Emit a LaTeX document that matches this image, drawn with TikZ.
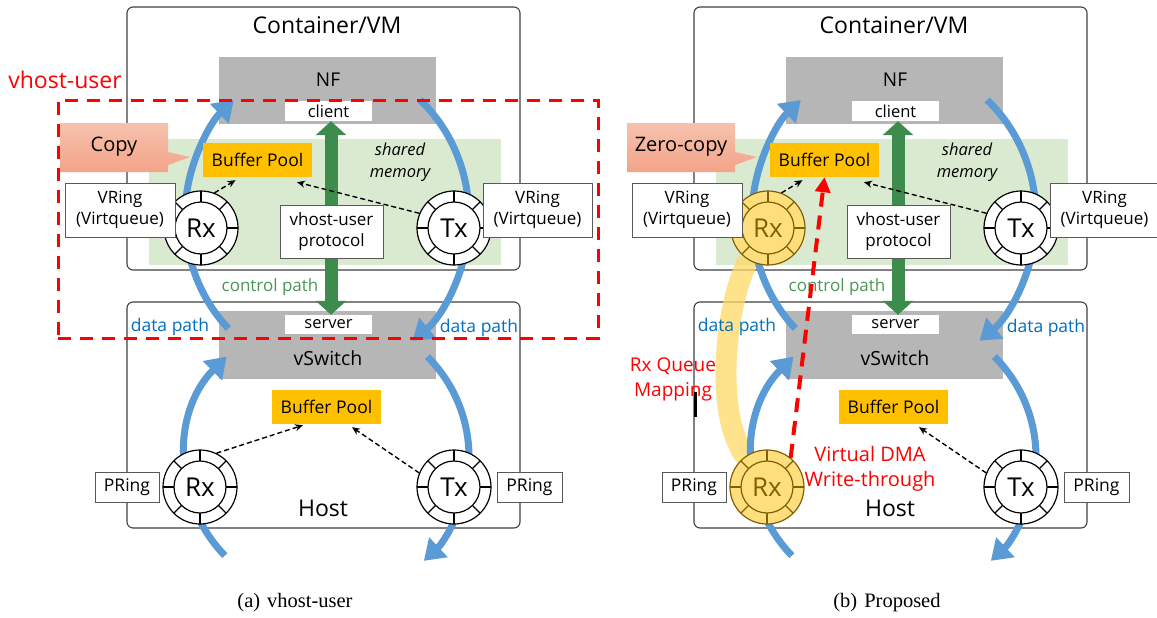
\documentclass[tikz,border=0pt]{standalone}
\usepackage{fontspec}
\setmainfont{Open Sans}
\newfontfamily\capfont{Liberation Serif}
\usetikzlibrary{arrows.meta,calc}

\definecolor{boxgray}{RGB}{182,182,182}
\definecolor{shmem}{RGB}{217,234,208}
\definecolor{pool}{RGB}{255,192,0}
\definecolor{flow}{RGB}{91,155,213}
\definecolor{flowtext}{RGB}{0,112,192}
\definecolor{ctrl}{RGB}{61,139,77}
\definecolor{ctrltext}{RGB}{76,150,86}
\definecolor{calltop}{RGB}{246,194,174}
\definecolor{callbot}{RGB}{243,163,136}
\definecolor{goldfill}{RGB}{255,222,125}
\definecolor{golddark}{RGB}{128,96,0}
\definecolor{mapband}{RGB}{255,217,102}

\newcommand\fsz[2]{\fontsize{#1}{#2}\selectfont}

\tikzset{
  frame/.style={draw=black!75, line width=1.1pt, rounded corners=6pt, inner sep=0},
  shmarea/.style={fill=shmem, inner sep=0},
  graybox/.style={fill=boxgray, inner sep=0},
  tag/.style={draw=black!65, fill=white, line width=0.9pt, inner sep=0, align=center, font=\fsz{17}{21}},
  whitetag/.style={fill=white, inner sep=0, font=\fsz{16.5}{18}},
  poolbox/.style={fill=pool, inner sep=0, minimum width=109pt, minimum height=34pt, font=\fsz{17.5}{20}},
  ring/.style={circle, draw=black, line width=1.2pt, fill=white, minimum size=74pt, inner sep=0, font=\fsz{26}{28}},
  goldring/.style={ring, draw=golddark, fill=goldfill, text=golddark},
  flowarrow/.style={draw=flow, line width=7pt, -{Triangle[length=20pt,width=26pt]}},
  ctrlarrow/.style={draw=ctrl, line width=13pt, {Triangle[length=14pt,width=30pt]}-{Triangle[length=14pt,width=30pt]}},
  ptrarrow/.style={draw=black, line width=1.4pt, dash pattern=on 5pt off 3pt, -{Stealth[length=8pt,width=7pt]}},
  dmaarrow/.style={draw=red, line width=4pt, dash pattern=on 14pt off 9pt, -{Triangle[length=15pt,width=15pt]}},
  mapping/.style={draw=mapband, line width=21pt, draw opacity=0.75},
  txt/.style={inner sep=0, align=center},
}

% inner circle and slot dividers of a descriptor ring
\newcommand\ringdeco[2]{%
  \draw[#2, line width=1.2pt] (#1.center) circle[radius=26pt];
  \foreach \a in {0,45,...,315}
    \draw[#2, line width=1.1pt] ($(#1.center)+(\a:26pt)$) -- ($(#1.center)+(\a:37pt)$);
}

% one panel: #1 prefix, #2 shift, #3 style of the Rx rings, #4 callout text,
% #5 drawn under the data paths, #6 drawn on top
\newcommand\drawpanel[6]{%
\begin{scope}[xshift=#2pt]
  \node[frame, minimum width=393pt, minimum height=263pt] (#1vm) at (323.5,138.5) {};
  \node[frame, minimum width=393pt, minimum height=226pt] (#1host) at (323.5,415) {};
  \node[shmarea, minimum width=352pt, minimum height=126pt] (#1shm) at (325,202) {};
  \node[graybox, minimum width=217pt, minimum height=67pt] (#1nf) at (327.5,90.5) {};
  \node[graybox, minimum width=217pt, minimum height=68pt] (#1vsw) at (327.5,345) {};
  \node[whitetag, minimum width=87pt, minimum height=20pt] (#1client) at (328.5,111) {client};
  \node[whitetag, minimum width=87pt, minimum height=19pt] (#1server) at (328.5,324.5) {server};
  #5
  % data paths
  \coordinate (#1up) at (327,217);
  \coordinate (#1lo) at (327,457);
  \draw[flowarrow] ($(#1up)+(134:142 and 155)$) arc[start angle=134, end angle=229, x radius=142, y radius=155];
  \draw[flowarrow] ($(#1up)+(-49:142 and 155)$) arc[start angle=-49, end angle=53, x radius=142, y radius=155];
  \draw[flowarrow] ($(#1lo)+(136:142 and 142)$) arc[start angle=136, end angle=225, x radius=142, y radius=142];
  \draw[flowarrow] ($(#1lo)+(-45:142 and 142)$) arc[start angle=-45, end angle=47, x radius=142, y radius=142];
  % control path
  \draw[ctrlarrow] ([xshift=2.5pt]#1client.south) -- ([xshift=2.5pt]#1server.north);
  \node[tag, minimum width=103pt, minimum height=53pt] (#1proto) at (331.5,231.5) {vhost-user\\protocol};
  \node[poolbox] (#1pool1) at (257.5,160) {Buffer Pool};
  \node[poolbox] (#1pool2) at (326.5,407) {Buffer Pool};
  % rings
  \node[#3] (#1vrx) at (201,228) {Rx};
  \node[ring] (#1vtx) at (454,228) {Tx};
  \node[#3] (#1hrx) at (200,487) {Rx};
  \node[ring] (#1htx) at (454,487) {Tx};
  \ringdeco{#1vrx}{draw=#1rc}
  \ringdeco{#1vtx}{draw=black}
  \ringdeco{#1hrx}{draw=#1rc}
  \ringdeco{#1htx}{draw=black}
  \draw[ptrarrow] (#1vrx.69) -- ($(#1pool1.south)+(-22,3)$);
  \draw[ptrarrow] (#1vtx.157) -- ($(#1pool1.south)+(39.5,5)$);
  \draw[ptrarrow] (#1htx.158) -- ($(#1pool2.south)+(25.5,3)$);
  \node[tag, minimum width=110pt, minimum height=54pt] (#1vringl) at (120,210) {VRing\\(Virtqueue)};
  \node[tag, minimum width=109pt, minimum height=54pt] (#1vringr) at (537.5,210) {VRing\\(Virtqueue)};
  \node[tag, minimum width=64pt, minimum height=30pt, font=\fsz{17.5}{20}] (#1pringl) at (127,487) {PRing};
  \node[tag, minimum width=65pt, minimum height=30pt, font=\fsz{17.5}{20}] (#1pringr) at (529.5,487) {PRing};
  % callout
  \shade[top color=calltop, bottom color=callbot]
    (60,123) -- (168,123) -- (168,152) -- (190,157) -- (168,165) -- (168,172) -- (60,172) -- cycle;
  \node[txt, font=\fsz{20}{22}] (#1calltext) at (114,147) {#4};
  % labels
  \node[txt, font=\fsz{23}{26}] (#1title) at (327,25) {Container/VM};
  \node[txt, font=\fsz{19}{22}] (#1nftext) at (328,80) {NF};
  \node[txt, font=\fsz{19.5}{22}] (#1vswtext) at (328,358) {vSwitch};
  \node[txt, font=\fsz{23}{26}] (#1hosttext) at (323,508) {Host};
  \node[txt, font=\itshape\fsz{16.5}{22}] (#1shmtext) at (400,162) {shared\\memory};
  \node[txt, text=ctrltext, font=\fsz{17}{20}] (#1ctrltext) at (270,287) {control path};
  \node[txt, text=flowtext, font=\fsz{17.5}{20}] (#1dpl) at (170,327) {data path};
  \node[txt, text=flowtext, font=\fsz{17.5}{20}] (#1dpr) at (479,328) {data path};
  #6
\end{scope}}

\colorlet{a-rc}{black}
\colorlet{b-rc}{golddark}

\begin{document}
\begin{tikzpicture}[x=1pt,y=-1pt]
\useasboundingbox (0,0) rectangle (1157,618);
\fill[white] (0,0) rectangle (1157,618);

\drawpanel{a-}{0}{ring}{Copy}{}{%
  \draw[ptrarrow] (a-hrx.64) -- ($(a-pool2.south)+(-23.5,1)$);
  \node[draw=red, line width=3pt, dash pattern=on 13pt off 9pt, minimum width=540pt, minimum height=238pt, inner sep=0] (a-vhost) at (328,219) {};
  \node[txt, text=red, font=\fsz{23}{26}] (a-vhosttext) at (65,80) {vhost-user};
}

\drawpanel{b-}{567}{goldring}{Zero-copy}{%
  \coordinate (b-maptop) at (181.5,260);
  \coordinate (b-mapbot) at (179,457);
  \draw[mapping] (b-maptop) .. controls +(-24,45) and +(-32,-40) .. (b-mapbot);
}{%
  \draw[dmaarrow] (b-hrx.51) -- (b-pool1.south);
  \node[txt, text=red, font=\fsz{19}{25}] (b-maptext) at (106,379) {Rx Queue\\Mapping};
  \node[txt, text=red, font=\fsz{20}{25}] (b-dmatext) at (303,469) {Virtual DMA\\Write-through};
  \draw[line width=3pt] (128,392) -- (128,417);
}

\node[txt, font=\capfont\fsz{20.5}{22}] (capa) at (295,603) {(a)\hspace{7pt}vhost-user};
\node[txt, font=\capfont\fsz{20.5}{22}] (capb) at (887,603) {(b)\hspace{7pt}Proposed};
\end{tikzpicture}
\end{document}
